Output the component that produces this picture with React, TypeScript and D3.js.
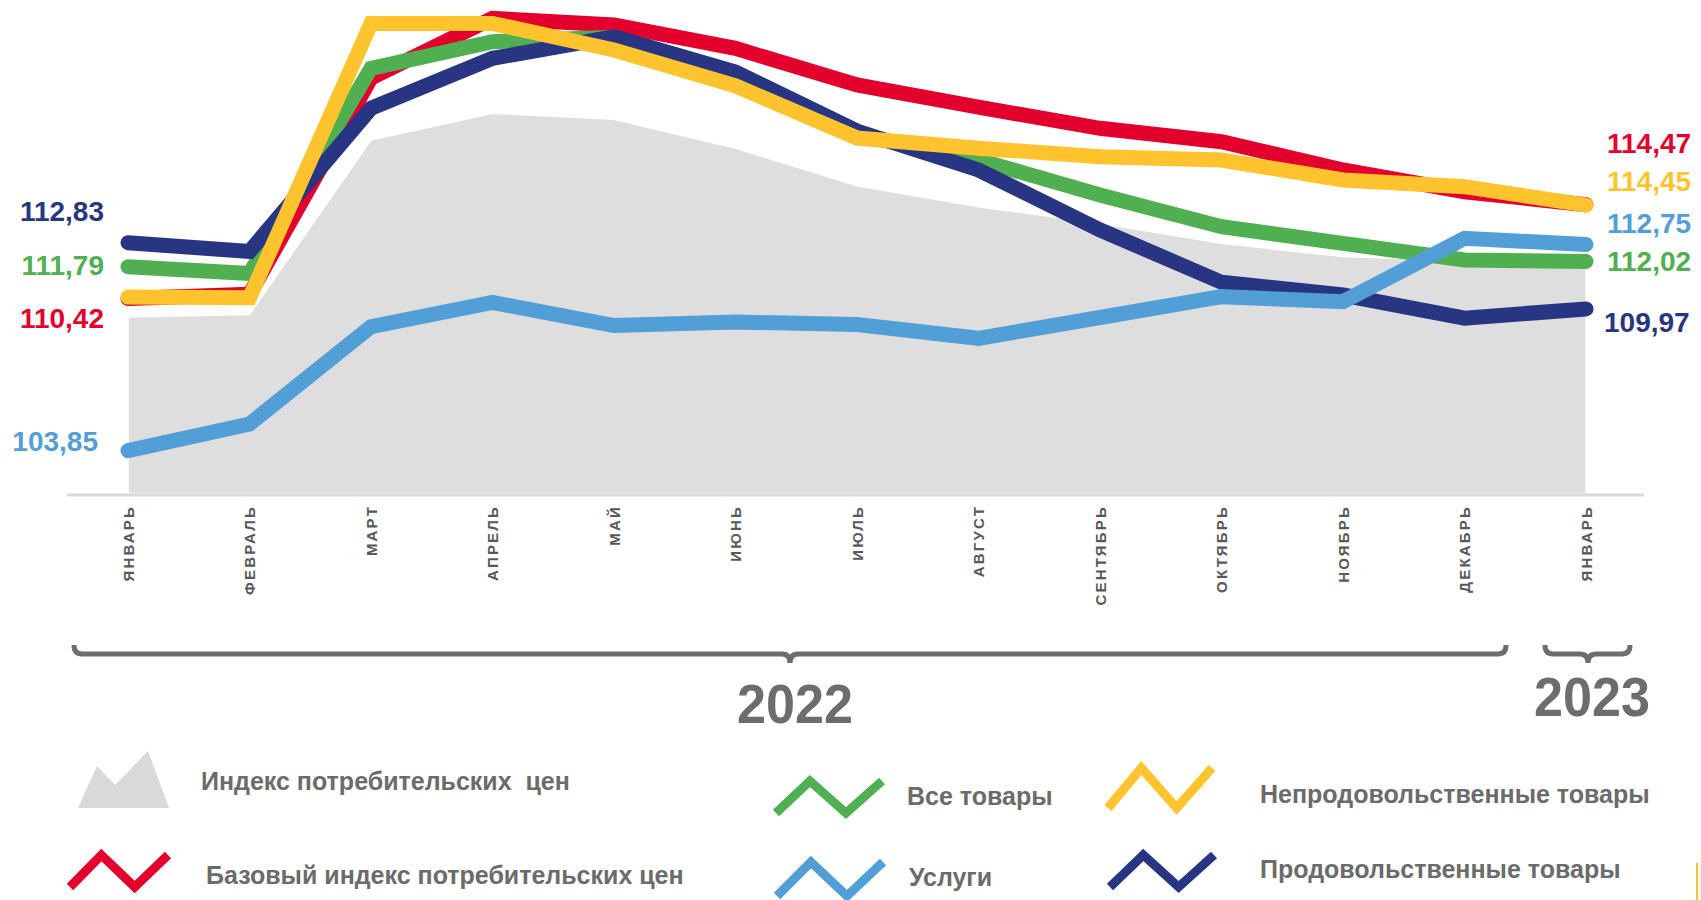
import React from "react";
import * as d3 from "d3";

const months = [
  "ЯНВАРЬ", "ФЕВРАЛЬ", "МАРТ", "АПРЕЛЬ", "МАЙ", "ИЮНЬ", "ИЮЛЬ",
  "АВГУСТ", "СЕНТЯБРЬ", "ОКТЯБРЬ", "НОЯБРЬ", "ДЕКАБРЬ", "ЯНВАРЬ",
];

// индекс потребительских цен (серая область)
const cpi = [109.62, 109.73, 117.26, 118.42, 118.16, 116.91, 115.29, 114.38, 113.67, 112.8, 112.23, 112.05, 111.95];
// базовый ИПЦ
const core = [110.42, 110.6, 119.94, 122.52, 122.23, 121.22, 119.64, 118.68, 117.77, 117.19, 115.97, 115.03, 114.47];
// все товары
const allGoods = [111.79, 111.5, 120.36, 121.51, 121.7, 119.95, 117.5, 116.4, 114.89, 113.52, 112.8, 112.08, 112.02];
// непродовольственные товары
const nonFood = [110.48, 110.45, 122.3, 122.3, 121.15, 119.6, 117.35, 116.91, 116.54, 116.4, 115.54, 115.25, 114.45];
// продовольственные товары
const food = [112.83, 112.45, 118.63, 120.79, 121.72, 120.2, 117.65, 115.97, 113.38, 111.12, 110.57, 109.57, 109.97];
// услуги
const services = [103.85, 105.0, 109.2, 110.25, 109.25, 109.4, 109.3, 108.7, 109.6, 110.5, 110.28, 113.02, 112.75];

const legendNames = [
  "Индекс потребительских  цен",
  "Базовый индекс потребительских цен",
  "Все товары",
  "Услуги",
  "Непродовольственные товары",
  "Продовольственные товары",
];

const years = ["2022", "2023"];

const C = {
  red: "#e3002c",
  green: "#50af50",
  yellow: "#ffc32e",
  navy: "#283583",
  blue: "#529fd7",
  area: "#dedede",
  text: "#6b6b6b",
};

const fmt = (v: number) => v.toFixed(2).replace(".", ",");

export default function App() {
  const W = 1701;
  const H = 900;

  const x = d3.scalePoint<number>().domain(d3.range(months.length)).range([128, 1586]);
  const y = d3.scaleLinear().domain([100, 125]).range([539.8, -39.15]);
  const baseY = 494;

  const line = d3
    .line<number>()
    .x((_, i) => x(i) as number)
    .y((d) => y(d));
  const area = d3
    .area<number>()
    .x((_, i) => x(i) as number)
    .y0(baseY)
    .y1((d) => y(d));

  // порядок отрисовки: снизу вверх
  const series = [
    { data: core, color: C.red },
    { data: allGoods, color: C.green },
    { data: food, color: C.navy },
    { data: services, color: C.blue },
    { data: nonFood, color: C.yellow },
  ];

  const last = months.length - 1;
  const leftLabels = [
    { v: food[0], color: C.navy, y: 221 },
    { v: allGoods[0], color: C.green, y: 275 },
    { v: core[0], color: C.red, y: 328 },
    { v: services[0], color: C.blue, y: 451, dx: -6 },
  ];
  const rightLabels = [
    { v: core[last], color: C.red, y: 153 },
    { v: nonFood[last], color: C.yellow, y: 191 },
    { v: services[last], color: C.blue, y: 233 },
    { v: allGoods[last], color: C.green, y: 271 },
    { v: food[last], color: C.navy, y: 332, dx: -3 },
  ];

  const brace = (x0: number, x1: number, xc: number) => {
    const yTop = 645;
    const yMid = 654;
    const yTip = 663;
    const r = 8;
    return `M${x0},${yTop} Q${x0},${yMid} ${x0 + r},${yMid} L${xc - r},${yMid} Q${xc},${yMid} ${xc},${yTip} Q${xc},${yMid} ${xc + r},${yMid} L${x1 - r},${yMid} Q${x1},${yMid} ${x1},${yTop}`;
  };

  const zig = (x0: number, y0: number, w: number, h: number) =>
    d3.line()([
      [x0, y0 + h],
      [x0 + w * 0.32, y0],
      [x0 + w * 0.66, y0 + h],
      [x0 + w, y0],
    ]) as string;

  const legendLines = [
    { name: legendNames[1], color: C.red, ix: 70, iy: 855, iw: 98, ih: 32, tx: 206, ty: 884 },
    { name: legendNames[2], color: C.green, ix: 776, iy: 781, iw: 106, ih: 32, tx: 907, ty: 805 },
    { name: legendNames[3], color: C.blue, ix: 777, iy: 862, iw: 106, ih: 34, tx: 909, ty: 886 },
    { name: legendNames[4], color: C.yellow, ix: 1108, iy: 768, iw: 104, ih: 40, tx: 1260, ty: 803 },
    { name: legendNames[5], color: C.navy, ix: 1110, iy: 855, iw: 104, ih: 32, tx: 1260, ty: 878 },
  ];

  const font = "'Liberation Sans', Arial, sans-serif";

  return (
    <svg
      width={W}
      height={H}
      style={{ position: "absolute", left: 0, top: 0, display: "block", background: "#fff" }}
      fontFamily={font}
    >
      <path d={area(cpi) as string} fill={C.area} stroke="#fff" strokeWidth={1.5} />
      <line x1={67} x2={1644} y1={baseY + 1} y2={baseY + 1} stroke="#d9d9d9" strokeWidth={3} />

      {series.map((s, i) => (
        <path
          key={i}
          d={line(s.data) as string}
          fill="none"
          stroke={s.color}
          strokeWidth={15}
          strokeLinecap="round"
          strokeLinejoin="miter"
        />
      ))}

      {leftLabels.map((l, i) => (
        <text key={i} x={104 + (l.dx || 0)} y={l.y} textAnchor="end" fill={l.color} fontSize={28} fontWeight="bold">
          {fmt(l.v)}
        </text>
      ))}
      {rightLabels.map((l, i) => (
        <text key={i} x={1607 + (l.dx || 0)} y={l.y} fill={l.color} fontSize={28} fontWeight="bold">
          {fmt(l.v)}
        </text>
      ))}

      {months.map((m, i) => (
        <text
          key={i}
          transform={`translate(${(x(i) as number) + 5.5},505) rotate(-90)`}
          textAnchor="end"
          fill="#595959"
          fontSize={15}
          fontWeight="bold"
          letterSpacing={2.2}
        >
          {m}
        </text>
      ))}

      <path d={brace(74, 1506, 790)} fill="none" stroke="#6d6d6d" strokeWidth={5} />
      <path d={brace(1545, 1630, 1588)} fill="none" stroke="#6d6d6d" strokeWidth={5} />
      <text x={795} y={723} textAnchor="middle" fill="#6d6d6d" fontSize={56} fontWeight="bold" textLength={116} lengthAdjust="spacingAndGlyphs">
        {years[0]}
      </text>
      <text x={1592} y={716} textAnchor="middle" fill="#6d6d6d" fontSize={56} fontWeight="bold" textLength={116} lengthAdjust="spacingAndGlyphs">
        {years[1]}
      </text>

      {/* легенда */}
      <polygon points="78,808 97,766 115,785 148,751 169,808" fill="#d9d9d9" />
      <text x={201} y={790} fill={C.text} fontSize={25} fontWeight="bold" style={{ whiteSpace: "pre" }}>
        {legendNames[0]}
      </text>
      {legendLines.map((l, i) => (
        <g key={i}>
          <path d={zig(l.ix, l.iy, l.iw, l.ih)} fill="none" stroke={l.color} strokeWidth={9} strokeLinejoin="miter" />
          <text x={l.tx} y={l.ty} fill={C.text} fontSize={25} fontWeight="bold">
            {l.name}
          </text>
        </g>
      ))}
      <line x1={1697} x2={1697} y1={863} y2={900} stroke={C.yellow} strokeWidth={2} />
    </svg>
  );
}
